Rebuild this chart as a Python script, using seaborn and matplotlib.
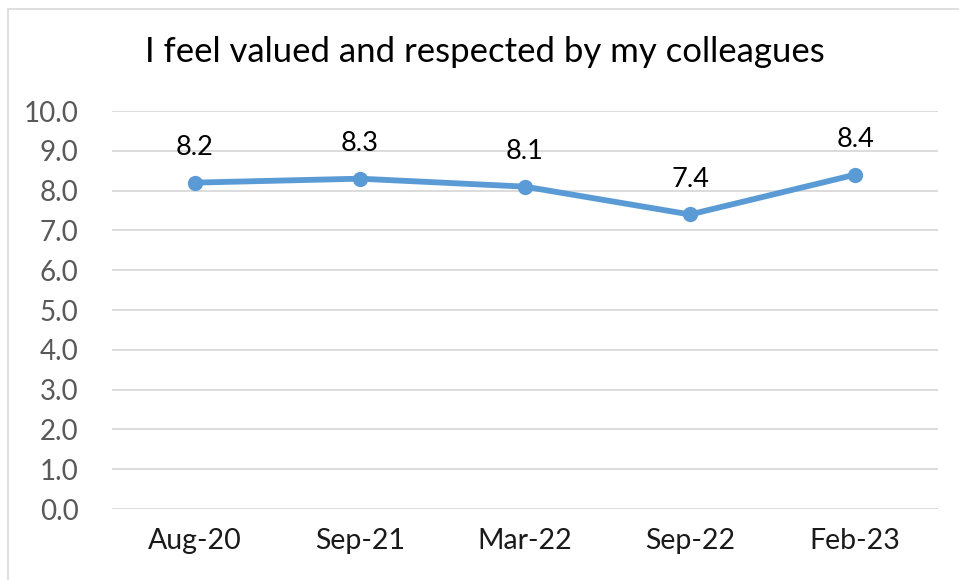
import pandas as pd
import seaborn as sns
import matplotlib.pyplot as plt
from matplotlib.patches import Rectangle

periods = ['Aug-20', 'Sep-21', 'Mar-22', 'Sep-22', 'Feb-23']
scores = [8.2, 8.3, 8.1, 7.4, 8.4]

df = pd.DataFrame({'period': periods, 'score': scores})

sns.set_style('whitegrid')
plt.rcParams['font.family'] = ['Lato', 'DejaVu Sans']

fig = plt.figure(figsize=(9.59, 5.8), dpi=100)
ax = fig.add_axes([0.1168, 0.1224, 0.861, 0.6862])

sns.lineplot(data=df, x='period', y='score', ax=ax, color='#5B9BD5',
             linewidth=4.2, marker='o', markersize=11, markeredgewidth=0, sort=False)

for i, v in enumerate(scores):
    ax.annotate(f'{v:.1f}', (i, v), xytext=(0, 25), textcoords='offset points',
                ha='center', va='center', fontsize=19.5, color='black')

ax.set_xlim(-0.5, len(periods) - 0.5)
ax.set_ylim(0, 10)
ax.set_yticks([i for i in range(11)])
ax.set_yticklabels([f'{i:.1f}' for i in range(11)])
ax.tick_params(axis='y', labelsize=20, labelcolor='#595959', length=0, pad=24)
ax.tick_params(axis='x', labelsize=20.5, labelcolor='#1a1a1a', length=0, pad=14)
ax.grid(axis='x', visible=False)
ax.grid(axis='y', color='#d9d9d9', linewidth=1.3)
for s in ax.spines.values():
    s.set_visible(False)
ax.set_xlabel('')
ax.set_ylabel('')

fig.text(0.506, 0.91, 'I feel valued and respected by my colleagues',
         ha='center', va='center', fontsize=25, color='black')

# chart frame, only left and top edges fall inside the picture
fig.patches.append(Rectangle((8 / 959, -0.1), 1.2, 1.1 - 9 / 580, transform=fig.transFigure,
                             fill=False, edgecolor='#d9d9d9', linewidth=1.2))

fig.savefig('out.png', dpi=100)
